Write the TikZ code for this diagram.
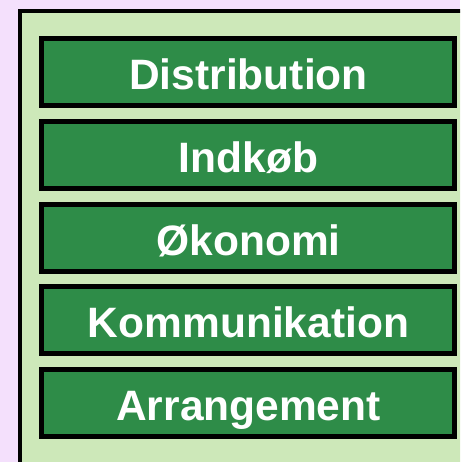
\documentclass[tikz,border=0pt]{standalone}
\usepackage{fontspec}
\setmainfont{Liberation Sans}
\definecolor{lav}{RGB}{244,224,252}
\definecolor{lgreen}{RGB}{205,232,185}
\definecolor{dgreen}{RGB}{46,140,72}
\tikzset{
  itembox/.style={draw=black, line width=5pt, fill=dgreen},
  itemtext/.style={text=white, font=\fontsize{42.5}{42.5}\selectfont\bfseries, anchor=base, inner sep=0pt}
}
\begin{document}
\begin{tikzpicture}[x=1pt,y=-1pt]
\useasboundingbox (0,0) rectangle (460,462);
\clip (0,0) rectangle (460,462);
\fill[lav] (0,0) rectangle (460,462);
\draw[line width=4pt, fill=lgreen] (20,11) rectangle (480,480);
\foreach \i/\t in {0/Distribution,1/Indkøb,2/Økonomi,3/Kommunikation,4/Arrangement}{
  \pgfmathsetmacro{\top}{38.5+82.75*\i}
  \draw[itembox] (41.5,\top) rectangle (454.5,\top+67) node[pos=0.5] (b\i) {};
  \node[itemtext] (t\i) at (248.5,\top+51) {\t};
}
\end{tikzpicture}
\end{document}
